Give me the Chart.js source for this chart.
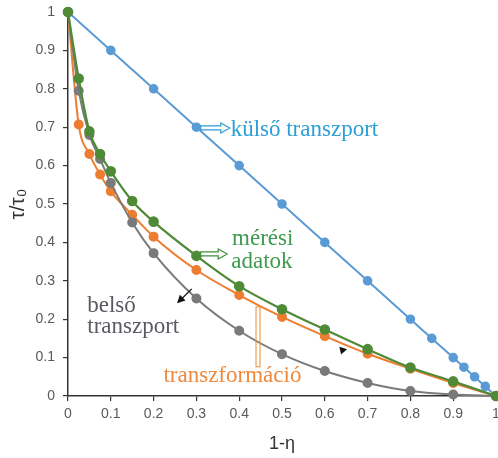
<!DOCTYPE html>
<html>
<head>
<meta charset="utf-8">
<script src="https://cdn.jsdelivr.net/npm/chart.js@4/dist/chart.umd.min.js"></script>
<style>
  html, body { margin: 0; padding: 0; background: #fff; }
  #wrap { width: 498px; height: 458px; }
</style>
</head>
<body>
<div id="wrap"><canvas id="chart" width="498" height="458"></canvas></div>
<script>
// x values (1-eta) and tau/tau0 values
const xKulso = [0, 0.1, 0.2, 0.3, 0.4, 0.5, 0.6, 0.7, 0.8, 0.85, 0.9, 0.925, 0.95, 0.975, 1];
const yKulso = [1, 0.9, 0.8, 0.7, 0.6, 0.5, 0.4, 0.3, 0.2, 0.15, 0.1, 0.075, 0.05, 0.025, 0];

const xMeres = [0, 0.025, 0.05, 0.075, 0.1, 0.15, 0.2, 0.3, 0.4, 0.5, 0.6, 0.7, 0.8, 0.9, 1];
const yMeres = [1, 0.827, 0.689, 0.63, 0.585, 0.508, 0.454, 0.365, 0.286, 0.226, 0.173, 0.122, 0.074, 0.038, 0];
const yTransz = [1, 0.707, 0.63, 0.577, 0.533, 0.472, 0.415, 0.328, 0.263, 0.206, 0.156, 0.11, 0.071, 0.034, 0];
const yBelso = [1, 0.795, 0.68, 0.617, 0.555, 0.452, 0.372, 0.254, 0.17, 0.109, 0.065, 0.034, 0.013, 0.004, 0];

const toPoints = (xs, ys) => xs.map((x, i) => ({ x: x, y: ys[i] }));
const tickText = v => String(Number(v.toFixed(1)));

// little helpers for the hand drawn looking notes
function hollowArrow(c, x0, y0, x1, y1, color) {
  const ang = Math.atan2(y1 - y0, x1 - x0);
  const len = Math.hypot(x1 - x0, y1 - y0);
  c.save();
  c.translate(x0, y0);
  c.rotate(ang);
  c.beginPath();
  c.moveTo(0, -2);
  c.lineTo(len - 9, -2);
  c.lineTo(len - 9, -5);
  c.lineTo(len, 0);
  c.lineTo(len - 9, 5);
  c.lineTo(len - 9, 2);
  c.lineTo(0, 2);
  c.closePath();
  c.fillStyle = "#fff";
  c.fill();
  c.strokeStyle = color;
  c.lineWidth = 1.2;
  c.stroke();
  c.restore();
}

function blackArrow(c, x0, y0, x1, y1) {
  const ang = Math.atan2(y1 - y0, x1 - x0);
  c.save();
  c.strokeStyle = "#111";
  c.fillStyle = "#111";
  c.lineWidth = 1.3;
  c.beginPath();
  c.moveTo(x0, y0);
  c.lineTo(x1, y1);
  c.stroke();
  c.translate(x1, y1);
  c.rotate(ang);
  c.beginPath();
  c.moveTo(2, 0);
  c.lineTo(-6, -4);
  c.lineTo(-6, 4);
  c.closePath();
  c.fill();
  c.restore();
}

const notes = {
  id: "notes",
  afterDatasetsDraw(chart) {
    const c = chart.ctx;
    const X = v => chart.scales.x.getPixelForValue(v);
    const Y = v => chart.scales.y.getPixelForValue(v);
    c.save();
    c.font = "23px 'Liberation Serif', serif";
    c.textBaseline = "alphabetic";

    // külső transzport
    hollowArrow(c, X(0.31), Y(0.698), X(0.378), Y(0.698), "#2f9ad6");
    c.fillStyle = "#2b9fd6";
    c.textAlign = "left";
    c.fillText("külső transzport", X(0.38), Y(0.677));

    // mérési adatok
    hollowArrow(c, X(0.31), Y(0.37), X(0.372), Y(0.37), "#3f8f3a");
    c.fillStyle = "#3d9b4f";
    c.textAlign = "center";
    c.fillText("mérési", X(0.455), Y(0.393));
    c.fillText("adatok", X(0.453), Y(0.333));

    // belső transzport
    blackArrow(c, X(0.289), Y(0.279), X(0.258), Y(0.245));
    c.fillStyle = "#5a5a64";
    c.textAlign = "left";
    c.fillText("belső", X(0.045), Y(0.219));
    c.fillText("transzport", X(0.045), Y(0.164));

    // transzformáció
    c.strokeStyle = "#e8944a";
    c.lineWidth = 1.1;
    c.strokeRect(X(0.444) - 2, Y(0.232), 4, Y(0.076) - Y(0.232));
    c.fillStyle = "#ee8a3e";
    c.fillText("transzformáció", X(0.223), Y(0.036));

    // stray arrow head
    c.fillStyle = "#111";
    c.beginPath();
    c.moveTo(X(0.634), Y(0.128));
    c.lineTo(X(0.652), Y(0.122));
    c.lineTo(X(0.638), Y(0.108));
    c.closePath();
    c.fill();
    c.restore();
  }
};

const ctx = document.getElementById("chart");

new Chart(ctx, {
  type: "scatter",
  data: {
    datasets: [
      {
        label: "külső transzport",
        data: toPoints(xKulso, yKulso),
        showLine: true,
        borderColor: "#5b9bd5",
        backgroundColor: "#5b9bd5",
        borderWidth: 2,
        pointRadius: 3.8,
        order: 3,
      },
      {
        label: "transzformáció",
        data: toPoints(xMeres, yTransz),
        showLine: true,
        cubicInterpolationMode: "monotone",
        borderColor: "#ed7d31",
        backgroundColor: "#ed7d31",
        borderWidth: 2,
        pointRadius: 4,
        order: 2,
      },
      {
        label: "belső transzport",
        data: toPoints(xMeres, yBelso),
        showLine: true,
        cubicInterpolationMode: "monotone",
        borderColor: "#7a7a7a",
        backgroundColor: "#7a7a7a",
        borderWidth: 2,
        pointRadius: 4,
        order: 1,
      },
      {
        label: "mérési adatok",
        data: toPoints(xMeres, yMeres),
        showLine: true,
        cubicInterpolationMode: "monotone",
        borderColor: "#4f8a37",
        backgroundColor: "#4f8a37",
        borderWidth: 2.2,
        pointRadius: 4.2,
        order: 0,
      },
    ],
  },
  options: {
    responsive: false,
    animation: false,
    clip: false,
    layout: { autoPadding: false, padding: { left: 0, right: 2, top: 12, bottom: 2 } },
    plugins: {
      legend: { display: false },
      tooltip: { enabled: false },
    },
    scales: {
      x: {
        type: "linear",
        min: 0,
        max: 1,
        afterFit: s => { s.height = 60; s.paddingLeft = 0; s.paddingRight = 0; },
        ticks: {
          stepSize: 0.1,
          color: "#595959",
          padding: 5,
          callback: tickText,
          font: { family: "'Liberation Sans', sans-serif", size: 14 },
        },
        grid: { drawOnChartArea: false, drawTicks: true, tickLength: 5, color: "#333", lineWidth: 1.2 },
        border: { display: true, color: "#333", width: 1.5 },
        title: {
          display: true,
          text: "1-η",
          color: "#333",
          padding: { top: 4, bottom: 1 },
          font: { family: "'Liberation Sans', sans-serif", size: 18 },
        },
      },
      y: {
        min: 0,
        max: 1,
        afterFit: s => { s.width = 68; s.paddingTop = 0; s.paddingBottom = 0; },
        ticks: {
          stepSize: 0.1,
          color: "#595959",
          padding: 8,
          callback: tickText,
          font: { family: "'Liberation Sans', sans-serif", size: 14 },
        },
        grid: { drawOnChartArea: false, drawTicks: true, tickLength: 5, color: "#333", lineWidth: 1.2 },
        border: { display: true, color: "#333", width: 1.5 },
        title: {
          display: true,
          text: "τ/τ₀",
          color: "#333",
          padding: { top: 6, bottom: 0 },
          font: { family: "'Liberation Sans', sans-serif", size: 21 },
        },
      },
    },
  },
  plugins: [notes],
});
</script>
</body>
</html>
